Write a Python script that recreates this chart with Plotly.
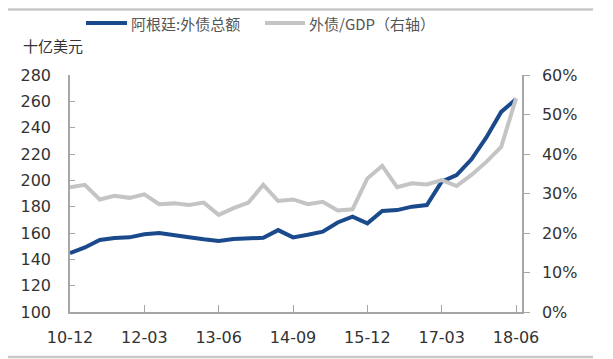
import plotly.graph_objects as go

quarters = ["10-12","11-03","11-06","11-09","11-12","12-03","12-06","12-09","12-12","13-03",
            "13-06","13-09","13-12","14-03","14-06","14-09","14-12","15-03","15-06","15-09",
            "15-12","16-03","16-06","16-09","16-12","17-03","17-06","17-09","17-12","18-03","18-06"]
debt = [144.8, 149.0, 154.7, 156.2, 156.7, 159.0, 160.0, 158.0, 156.7, 155.2,
        154.0, 155.4, 155.6, 156.4, 162.2, 156.7, 158.7, 161.0, 168.0, 172.4,
        167.3, 176.7, 177.4, 180.0, 181.2, 199.0, 204.0, 216.0, 232.6, 252.0, 261.7]
debt_gdp = [31.6, 32.2, 28.5, 29.4, 28.9, 29.8, 27.3, 27.5, 27.1, 27.7,
            24.6, 26.3, 27.7, 32.2, 28.1, 28.5, 27.3, 27.9, 25.7, 26.0,
            33.8, 37.0, 31.6, 32.6, 32.3, 33.4, 31.9, 34.7, 38.0, 41.8, 54.1]
tick_labels = ["10-12","12-03","13-06","14-09","15-12","17-03","18-06"]
left_ticks = [100,120,140,160,180,200,220,240,260,280]
right_ticks = [0,10,20,30,40,50,60]

idx = list(range(len(quarters)))
tick_idx = [quarters.index(t) for t in tick_labels]

BLUE = "#1a4a8c"
GREY = "#c4c4c4"
AX = "#a6a6a6"
TXT = "#333333"
FONT = "DejaVu Sans"

fig = go.Figure()
fig.add_trace(go.Scatter(x=idx, y=debt_gdp, mode="lines", name="外债/GDP（右轴）",
                         line=dict(color=GREY, width=4), yaxis="y2"))
fig.add_trace(go.Scatter(x=idx, y=debt, mode="lines", name="阿根廷:外债总额",
                         line=dict(color=BLUE, width=4)))

# page has an 8px body margin; figure coords = page coords - 8
fig.update_layout(
    width=613, height=359,
    margin=dict(l=62, r=99, t=67, b=55),
    paper_bgcolor="white", plot_bgcolor="white",
    font=dict(family=FONT, size=16, color=TXT),
    showlegend=False,
    xaxis=dict(range=[0, 30.4], tickmode="array", tickvals=tick_idx, ticktext=tick_labels,
               showgrid=False, zeroline=False, showline=True, linecolor=AX, linewidth=1.5,
               ticks="inside", ticklen=7, tickcolor=AX, ticklabelstandoff=10,
               tickfont=dict(size=16, color=TXT)),
    yaxis=dict(range=[100, 280], tickmode="array", tickvals=left_ticks,
               showgrid=False, zeroline=False, showline=True, linecolor=AX, linewidth=1.5,
               ticks="inside", ticklen=5, tickcolor=AX, ticklabelstandoff=14,
               tickfont=dict(size=16, color=TXT)),
    yaxis2=dict(range=[0, 60], tickmode="array", tickvals=right_ticks,
                ticktext=[f"{v}%" for v in right_ticks], overlaying="y", side="right",
                showgrid=False, zeroline=False, showline=True, linecolor=AX, linewidth=1.5,
                ticks="outside", ticklen=6, tickcolor=AX, ticklabelstandoff=9,
                tickfont=dict(size=16, color=TXT)),
)

def px_x(p):
    return (p - 70) / 452
def px_y(p):
    return (312 - p) / 237

CJK = "Noto Sans CJK SC"
fig.add_shape(type="line", xref="paper", yref="paper", x0=px_x(86), x1=px_x(127),
              y0=px_y(23), y1=px_y(23), line=dict(color=BLUE, width=4))
fig.add_annotation(xref="paper", yref="paper", x=px_x(129), y=px_y(23), xanchor="left",
                   yanchor="middle", showarrow=False, text=fig.data[1].name,
                   font=dict(family=CJK, size=15, color="#555555"))
fig.add_shape(type="line", xref="paper", yref="paper", x0=px_x(265), x1=px_x(305),
              y0=px_y(23), y1=px_y(23), line=dict(color=GREY, width=4))
fig.add_annotation(xref="paper", yref="paper", x=px_x(307), y=px_y(23), xanchor="left",
                   yanchor="middle", showarrow=False, text=fig.data[0].name,
                   font=dict(family=CJK, size=15, color="#555555"))
fig.add_annotation(xref="paper", yref="paper", x=px_x(21), y=px_y(46), xanchor="left",
                   yanchor="middle", showarrow=False, text="十亿美元",
                   font=dict(family=CJK, size=15, color=TXT))
for yy in (9.5, 357):
    fig.add_shape(type="line", xref="paper", yref="paper", x0=px_x(8), x1=px_x(593),
                  y0=px_y(yy), y1=px_y(yy), line=dict(color="#c8c8c8", width=2.5))

fig.write_html("out.html")
